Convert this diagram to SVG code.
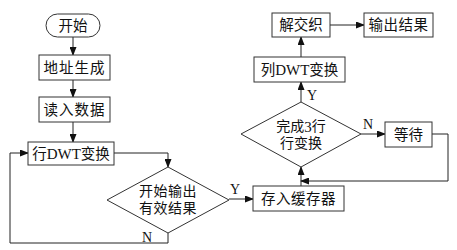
<svg xmlns="http://www.w3.org/2000/svg" width="457" height="250" viewBox="0 0 457 250">
<style>
.box{fill:#fff;stroke:#333;stroke-width:1}
.ln{fill:none;stroke:#222;stroke-width:1}
.t{font-family:"Liberation Serif","Noto Sans CJK SC",serif;font-size:14.5px;fill:#111;text-anchor:middle;dominant-baseline:central}
.d{font-size:14px}
.m{font-size:15px}
.lb{font-family:"Liberation Serif",serif;font-size:14px;fill:#111;text-anchor:middle;dominant-baseline:central}
</style>
<defs>
<marker id="ar" markerWidth="9" markerHeight="7" refX="8" refY="3.5" orient="auto" markerUnits="userSpaceOnUse">
<path d="M0,0 L9,3.5 L0,7 z" fill="#111"/>
</marker>
</defs>
<rect width="457" height="250" fill="#fff"/>
<g id="connectors">
<line class="ln" x1="73" y1="37" x2="73" y2="55" marker-end="url(#ar)"/>
<line class="ln" x1="73" y1="80" x2="73" y2="97" marker-end="url(#ar)"/>
<line class="ln" x1="73" y1="122" x2="73" y2="142" marker-end="url(#ar)"/>
<polyline class="ln" points="114,153 168,153 168,167" marker-end="url(#ar)"/>
<polyline class="ln" points="168,233 168,243 10,243 10,153 28,153" marker-end="url(#ar)"/>
<line class="ln" x1="229" y1="199" x2="253" y2="199" marker-end="url(#ar)"/>
<line class="ln" x1="301" y1="186" x2="301" y2="167" marker-end="url(#ar)"/>
<line class="ln" x1="361" y1="134" x2="385" y2="134" marker-end="url(#ar)"/>
<polyline class="ln" points="432,134 448,134 448,181 301,181" marker-end="url(#ar)"/>
<line class="ln" x1="301" y1="102" x2="301" y2="82" marker-end="url(#ar)"/>
<line class="ln" x1="301" y1="57" x2="301" y2="37" marker-end="url(#ar)"/>
<line class="ln" x1="330" y1="25" x2="364" y2="25" marker-end="url(#ar)"/>
<text class="lb" x="147" y="237">N</text>
<text class="lb" x="235" y="189">Y</text>
<text class="lb" x="368" y="124">N</text>
<text class="lb" x="312" y="95">Y</text>
</g>
<g id="start"><rect class="box" x="46" y="14" width="54" height="23" rx="11.5"/><text class="t" x="73" y="25.5">开始</text></g>
<g id="addr"><rect class="box" x="39" y="55" width="71" height="25"/><text class="t" x="74.5" y="67.5" letter-spacing="1">地址生成</text></g>
<g id="read"><rect class="box" x="39" y="97" width="71" height="25"/><text class="t" x="74.5" y="109.5" letter-spacing="1">读入数据</text></g>
<g id="rowdwt"><rect class="box" x="28" y="142" width="86" height="23"/><text class="t" x="71" y="153.5">行<tspan class="m">DWT</tspan>变换</text></g>
<g id="dec1"><polygon class="box" points="168,167 229,200 168,233 107,200"/><text class="t d" x="168" y="191.5" letter-spacing="0.5">开始输出</text><text class="t d" x="168" y="208.5" letter-spacing="0.5">有效结果</text></g>
<g id="buffer"><rect class="box" x="253" y="186" width="91" height="25"/><text class="t" x="298.5" y="198.5" letter-spacing="0.5">存入缓存器</text></g>
<g id="dec2"><polygon class="box" points="301,102 361,134 301,167 241,134"/><text class="t d" x="301" y="126.5">完成<tspan class="m">3</tspan>行</text><text class="t d" x="301" y="143">行变换</text></g>
<g id="wait"><rect class="box" x="385" y="122" width="47" height="25"/><text class="t" x="408.5" y="134.5">等待</text></g>
<g id="coldwt"><rect class="box" x="254" y="57" width="91" height="25"/><text class="t" x="299.5" y="69.5">列<tspan class="m">DWT</tspan>变换</text></g>
<g id="deint"><rect class="box" x="272" y="13" width="58" height="24"/><text class="t" x="301" y="25">解交织</text></g>
<g id="output"><rect class="box" x="364" y="13" width="69" height="24"/><text class="t" x="398.5" y="25" letter-spacing="0.5">输出结果</text></g>
</svg>
